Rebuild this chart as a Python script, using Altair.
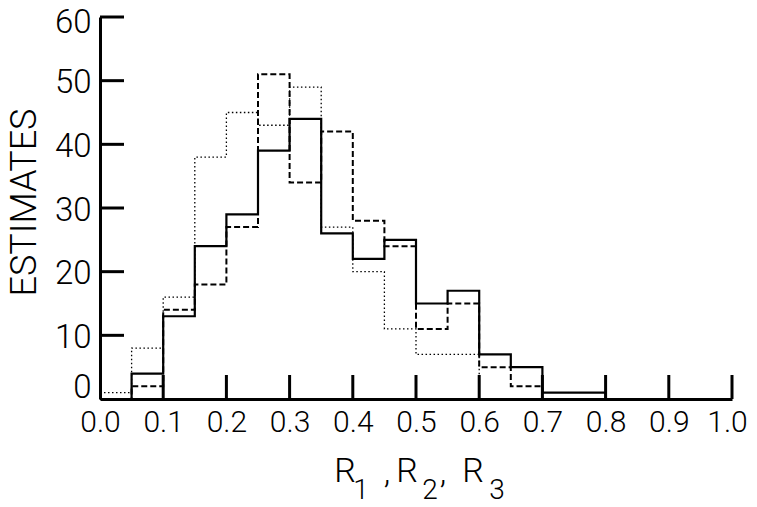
import altair as alt
import pandas as pd

# Histogram bins (left edges, width 0.05)
bin_left = [round(0.05 * i, 2) for i in range(20)]
solid_counts = [0, 4, 13, 24, 29, 39, 44, 26, 22, 25, 15, 17, 7, 5, 1, 1, 0, 0, 0, 0]
dashed_counts = [0, 2, 14, 18, 27, 51, 34, 42, 28, 24, 11, 15, 5, 2, 0, 0, 0, 0, 0, 0]
dotted_counts = [1, 8, 16, 38, 45, 43, 49, 27, 20, 11, 7, 7, 0, 0, 0, 0, 0, 0, 0, 0]

x_label_values = [round(0.1 * i, 1) for i in range(11)]
x_tick_values = [round(0.1 * i, 1) for i in range(1, 11)]
y_label_values = [0, 10, 20, 30, 40, 50, 60]
y_tick_values = [10, 20, 30, 40, 50, 60]

series = [
    ("R1", solid_counts, [1, 0], 2.2),
    ("R2", dashed_counts, [6, 3], 2.0),
    ("R3", dotted_counts, [1.5, 2.5], 1.3),
]

W, H = 632, 382
FONT = "Roboto"

xscale = alt.Scale(domain=[0, 1], nice=False, zero=False)
yscale = alt.Scale(domain=[0, 60], nice=False)

x_axis = alt.Axis(
    values=x_label_values, format=".1f", title=None,
    ticks=False, grid=False, domainWidth=3, domainColor="black",
    labelFont=FONT, labelFontSize=30, labelFontWeight=300, labelColor="black",
    labelPadding=8, labelFlush=False,
    labelOffset={"condition": {"test": "datum.value == 1", "value": -5}, "value": 0},
)
y_axis = alt.Axis(
    values=y_label_values, title="ESTIMATES",
    ticks=False, grid=False, domainWidth=3, domainColor="black",
    labelFont=FONT, labelFontSize=33, labelFontWeight=300, labelColor="black",
    labelPadding=9, labelFlush=False,
    labelOffset={"condition": [
        {"test": "datum.value == 0", "value": -12},
        {"test": "datum.value == 60", "value": 5},
    ], "value": 2},
    titleFont=FONT, titleFontSize=36, titleFontWeight=300, titleColor="black",
    titleX=-76, titleY=185, titleAngle=270, titleBaseline="middle", titleAlign="center",
)

layers = []
for name, vals, dash, sw in series:
    xs = bin_left + [1.0]
    ys = vals + [vals[-1]]
    d = pd.DataFrame({"x": xs, "y": ys})
    layers.append(
        alt.Chart(d).mark_line(
            interpolate="step-after", color="black", strokeDash=dash, strokeWidth=sw
        ).encode(
            x=alt.X("x:Q", scale=xscale, axis=x_axis),
            y=alt.Y("y:Q", scale=yscale, axis=y_axis),
        )
    )

xt = pd.DataFrame({"x": x_tick_values})
x_ticks = alt.Chart(xt).mark_rule(color="black", strokeWidth=3).encode(
    x=alt.X("x:Q", scale=xscale, axis=x_axis),
    y=alt.value(H), y2=alt.value(H - 24),
)
yt = pd.DataFrame({"y": y_tick_values})
y_ticks = alt.Chart(yt).mark_rule(color="black", strokeWidth=3).encode(
    y=alt.Y("y:Q", scale=yscale, axis=y_axis),
    x=alt.value(0), x2=alt.value(24),
)

# x-axis title "R1 , R2, R3" with large subscripts, built from text pieces
title_pieces = [
    ("R", 245, 465, 34), ("1", 261, 482, 28), (",", 287, 466, 34),
    ("R", 307, 465, 34), ("2", 330, 482, 28), (",", 343, 466, 34),
    ("R", 373, 465, 34), ("3", 397, 482, 28),
]
title_layers = []
for txt, px, py, fs in title_pieces:
    title_layers.append(
        alt.Chart(pd.DataFrame({"t": [txt]})).mark_text(
            font=FONT, fontSize=fs, fontWeight=300, color="black",
            align="center", baseline="alphabetic",
        ).encode(text="t:N", x=alt.value(px), y=alt.value(py))
    )

chart = alt.layer(*layers, x_ticks, y_ticks, *title_layers).properties(
    width=W, height=H,
    autosize=alt.AutoSizeParams(type="none"),
    padding={"left": 92, "top": 9, "right": 17, "bottom": 100},
    background="white",
).configure_view(stroke=None)

chart.save("out.html", embed_options={"renderer": "svg", "actions": False})
